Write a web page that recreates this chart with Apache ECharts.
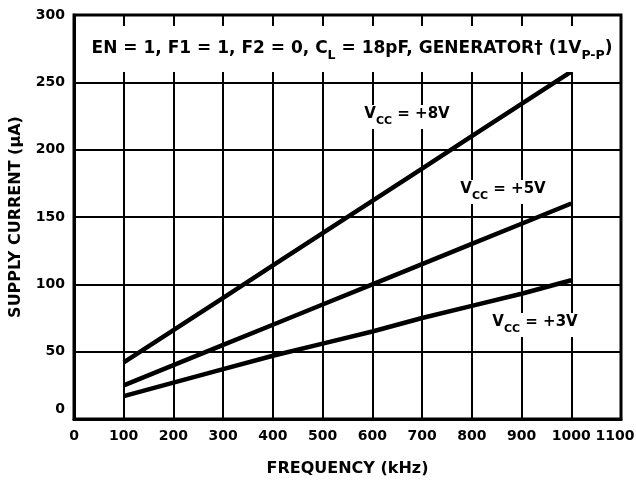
<!DOCTYPE html>
<html><head><meta charset="utf-8">
<script src="https://cdn.jsdelivr.net/npm/echarts@6/dist/echarts.min.js"></script>
<style>html,body{margin:0;padding:0;background:#fff}#c{width:636px;height:485px}</style>
</head><body><div id="c"></div>
<script>
const freq = [100, 200, 300, 400, 500, 600, 700, 800, 900, 1000];
const vcc8 = [42, 66, 90, 114, 138, 162, 186, 210, 234, 258];
const vcc5 = [25, 40, 55, 70, 85, 100, 115, 130, 145, 160];
const vcc3 = [17, 27, 37, 47, 56, 65, 75, 84, 93, 103];
const xTicks = [0,100,200,300,400,500,600,700,800,900,1000,1100];
const yTicks = [0,50,100,150,200,250,300];
const titleText = '{t|EN = 1, F1 = 1, F2 = 0, C}{ts|L}{t| = 18pF, GENERATOR\u2020 (1V}{ts|P-P}{t|)}';
const curveLabels = ['{b|V}{s|CC}{b| = +8V}', '{b|V}{s|CC}{b| = +5V}', '{b|V}{s|CC}{b| = +3V}'];

const FONT = '"DejaVu Sans", "Liberation Sans", sans-serif';
const chart = echarts.init(document.getElementById('c'));
const pair = (ys) => freq.map((f, i) => [f, ys[i]]);
const lineSeries = (name, ys) => ({
  name, type: 'line', data: pair(ys), showSymbol: false, symbol: 'none',
  lineStyle: { color: '#000', width: 4.5, cap: 'butt' }, z: 5, animation: false
});
const rich = {
  b: { fontFamily: FONT, fontWeight: 'bold', fontSize: 15, color: '#000', lineHeight: 20, verticalAlign: 'top' },
  s: { fontFamily: FONT, fontWeight: 'bold', fontSize: 11, color: '#000', lineHeight: 20, verticalAlign: 'bottom', padding: [9, 0, 0, 0] },
  t: { fontFamily: FONT, fontWeight: 'bold', fontSize: 17, color: '#000', lineHeight: 22, verticalAlign: 'top' },
  ts: { fontFamily: FONT, fontWeight: 'bold', fontSize: 12.5, color: '#000', lineHeight: 22, verticalAlign: 'bottom', padding: [10, 0, 0, 0] }
};
function label(x, y, text, bg) {
  return {
    type: 'text', x, y, z: 10,
    style: {
      text, rich, fontFamily: FONT, fontWeight: 'bold', fontSize: 15, fill: '#000',
      backgroundColor: bg ? '#fff' : 'transparent', padding: [2, 4, 2, 4], align: 'center', verticalAlign: 'middle'
    }
  };
}
const axisFont = { fontFamily: FONT, fontWeight: 'bold', fontSize: 14, color: '#000' };
const nameFont = { fontFamily: FONT, fontWeight: 'bold', fontSize: 16, color: '#000' };
chart.setOption({
  animation: false,
  backgroundColor: '#fff',
  grid: { left: 74, right: 15, top: 15, bottom: 66, show: true, borderColor: '#000', borderWidth: 3,
    containLabel: false, outerBoundsMode: 'none' },
  xAxis: {
    type: 'value', min: 0, max: 1100, interval: 100,
    name: 'FREQUENCY (kHz)', nameLocation: 'middle', nameGap: 42,
    nameTextStyle: nameFont,
    axisLine: { show: true, lineStyle: { color: '#000', width: 3 } },
    axisTick: { show: false },
    axisLabel: Object.assign({ margin: 10,
      formatter: v => xTicks.includes(v) ? (v === 1100 ? '{r|1100}' : String(v)) : '',
      rich: { r: Object.assign({ padding: [0, 12, 0, 0] }, axisFont) } }, axisFont),
    splitLine: { show: true, lineStyle: { color: '#000', width: 2 } }
  },
  yAxis: {
    type: 'value', min: 0, max: 300, interval: 50,
    name: 'SUPPLY CURRENT (\u00B5A)', nameLocation: 'middle', nameGap: 50,
    nameTextStyle: nameFont,
    axisLine: { show: true, lineStyle: { color: '#000', width: 3 } },
    axisTick: { show: false },
    axisLabel: Object.assign({ margin: 9,
      formatter: v => yTicks.includes(v) ? (v === 0 ? '{z|0}' : String(v)) : '',
      rich: { z: Object.assign({ padding: [0, 0, 20, 0] }, axisFont) } }, axisFont),
    splitLine: { show: true, lineStyle: { color: '#000', width: 2 } }
  },
  series: [lineSeries('VCC = +8V', vcc8), lineSeries('VCC = +5V', vcc5), lineSeries('VCC = +3V', vcc3)],
  graphic: [
    { type: 'rect', shape: { x: 78, y: 26, width: 538, height: 46 }, style: { fill: '#fff' }, z: 9 },
    label(352, 51, titleText, false),
    label(407, 117, curveLabels[0], true),
    label(503, 192, curveLabels[1], true),
    label(535, 325, curveLabels[2], true)
  ]
});
</script></body></html>
